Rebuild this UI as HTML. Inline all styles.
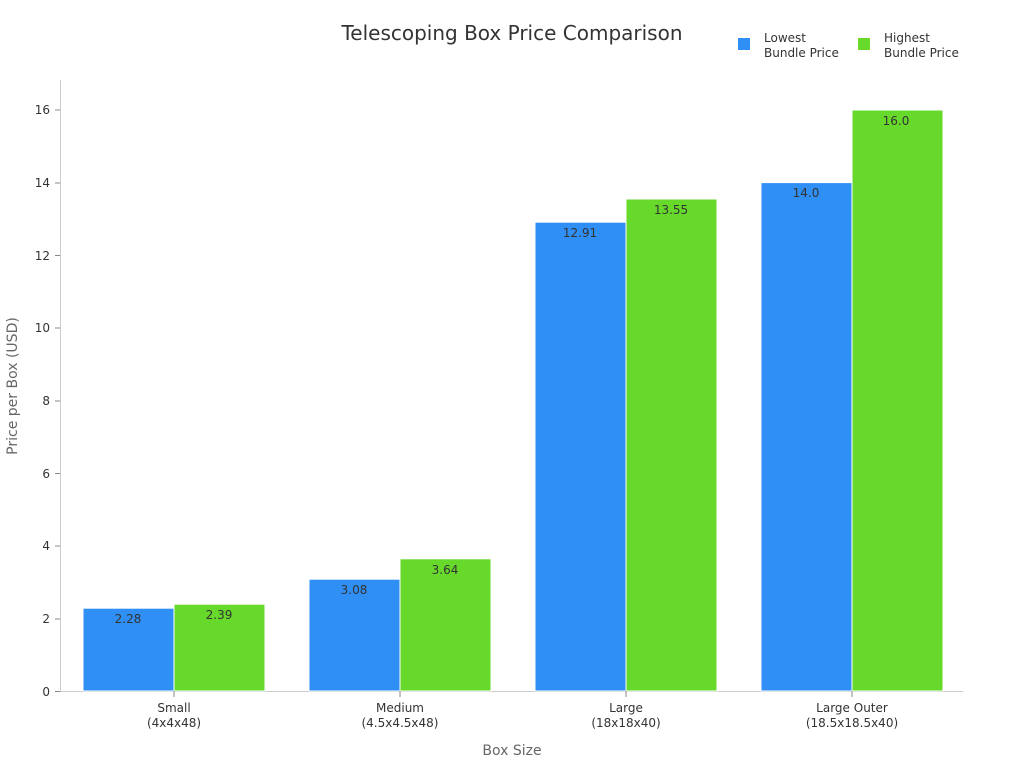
<!DOCTYPE html>
<html><head><style>body{margin:0;background:#fff}svg{display:block;font-family:"DejaVu Sans","Liberation Sans",sans-serif}</style></head>
<body>
<svg width="1024" height="768" viewBox="0 0 1024 768">
<text x="512" y="40" text-anchor="middle" font-size="20" fill="#333">Telescoping Box Price Comparison</text>
<rect x="738" y="38" width="12" height="12" fill="#2f8ff5"/>
<text x="764" y="42" font-size="12" fill="#333">Lowest</text>
<text x="764" y="57" font-size="12" fill="#333">Bundle Price</text>
<rect x="858" y="38" width="12" height="12" fill="#66d92a"/>
<text x="884" y="42" font-size="12" fill="#333">Highest</text>
<text x="884" y="57" font-size="12" fill="#333">Bundle Price</text>
<g stroke="#ccc" stroke-width="1">
<line x1="60.5" y1="80" x2="60.5" y2="691"/>
<line x1="60" y1="691.5" x2="963" y2="691.5"/>
</g>
<g stroke="#888" stroke-width="1">
<line x1="55" y1="691.5" x2="60" y2="691.5"/><line x1="55" y1="619" x2="60" y2="619"/><line x1="55" y1="546" x2="60" y2="546"/><line x1="55" y1="473.5" x2="60" y2="473.5"/><line x1="55" y1="401" x2="60" y2="401"/><line x1="55" y1="328" x2="60" y2="328"/><line x1="55" y1="255.5" x2="60" y2="255.5"/><line x1="55" y1="183" x2="60" y2="183"/><line x1="55" y1="110" x2="60" y2="110"/>
</g>
<g font-size="12" fill="#333" text-anchor="end">
<text x="50" y="696">0</text><text x="50" y="623">2</text><text x="50" y="550">4</text><text x="50" y="478">6</text><text x="50" y="405">8</text><text x="50" y="332">10</text><text x="50" y="260">12</text><text x="50" y="187">14</text><text x="50" y="114">16</text>
</g>
<text transform="translate(17,386) rotate(-90)" text-anchor="middle" font-size="14" fill="#666">Price per Box (USD)</text>
<text x="512" y="755" text-anchor="middle" font-size="14" fill="#666">Box Size</text>
<g stroke="#fff" stroke-width="1">
<rect x="83" y="608.2" width="91" height="82.8" fill="#2f8ff5"/>
<rect x="174" y="604.2" width="91" height="86.8" fill="#66d92a"/>
<rect x="309" y="579.2" width="91" height="111.8" fill="#2f8ff5"/>
<rect x="400" y="558.8" width="91" height="132.2" fill="#66d92a"/>
<rect x="535" y="222.2" width="91" height="468.8" fill="#2f8ff5"/>
<rect x="626" y="199" width="91" height="492" fill="#66d92a"/>
<rect x="761" y="182.6" width="91" height="508.4" fill="#2f8ff5"/>
<rect x="852" y="110" width="91" height="581" fill="#66d92a"/>
</g>
<g font-size="12" fill="#333" text-anchor="middle">
<text x="128" y="623">2.28</text><text x="219" y="619">2.39</text>
<text x="354" y="594">3.08</text><text x="445" y="574">3.64</text>
<text x="580" y="237">12.91</text><text x="671" y="214">13.55</text>
<text x="806" y="197">14.0</text><text x="896" y="125">16.0</text>
<text x="174" y="712">Small</text><text x="174" y="727">(4x4x48)</text>
<text x="400" y="712">Medium</text><text x="400" y="727">(4.5x4.5x48)</text>
<text x="626" y="712">Large</text><text x="626" y="727">(18x18x40)</text>
<text x="852" y="712">Large Outer</text><text x="852" y="727">(18.5x18.5x40)</text>
</g>
<g stroke="#888"><line x1="174" y1="691" x2="174" y2="697"/><line x1="400" y1="691" x2="400" y2="697"/><line x1="626" y1="691" x2="626" y2="697"/><line x1="852" y1="691" x2="852" y2="697"/></g>
</svg>
</body></html>
